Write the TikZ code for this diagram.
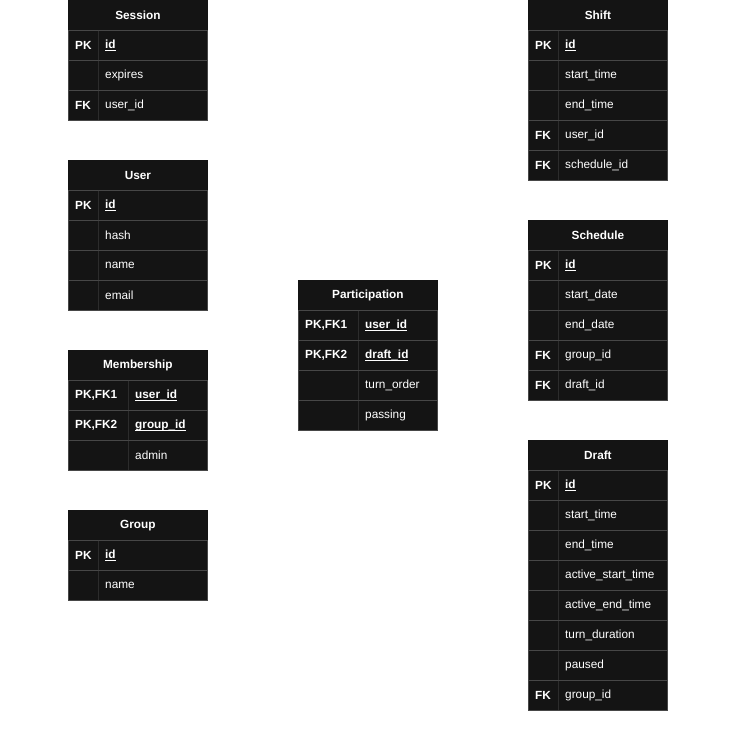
\documentclass[tikz,border=0pt]{standalone}
\usepackage{fontspec}
\setmainfont{Liberation Sans}
\definecolor{cellbg}{HTML}{141414}
\definecolor{gridline}{HTML}{474747}
\definecolor{dividerline}{HTML}{2C2C2C}

% underline that sits level with the underscore glyph
\newcommand\pkul[1]{\setbox0\hbox{#1}\rlap{\rule[-2.4pt]{\wd0}{0.9pt}}\box0}

\tikzset{
  x=1pt, y=-1pt,
  cellbox/.style={draw=gridline, fill=cellbg, line width=0.8pt,
    minimum height=30pt, inner sep=0pt, anchor=north west},
  titlecell/.style={cellbox, draw=cellbg, minimum width=139pt, text=white,
    font=\fontsize{11.8}{13}\selectfont\bfseries},
  divider/.style={draw=dividerline, line width=0.8pt},
  keytext/.style={anchor=west, inner sep=0pt, text=white,
    font=\fontsize{11.8}{13}\selectfont\bfseries},
  plainfield/.style={anchor=west, inner sep=0pt, text=white,
    font=\fontsize{11.8}{13}\selectfont},
  keyfield/.style={plainfield, font=\fontsize{11.8}{13}\selectfont\bfseries},
}

% #1 name, #2 left x, #3 top y, #4 key column width, #5 title, #6 rows key/field/style
\newcommand\ertable[6]{%
  \node[titlecell] (#1) at (#2,#3) {#5};
  \foreach \k/\f/\st [count=\i] in {#6} {
    \pgfmathsetmacro\ry{#3+30*\i}
    \node[cellbox, minimum width=139pt] (#1-row-\i) at (#2,\ry) {};
    \coordinate (#1-key-\i) at (#2+#4,\ry);
    \draw[divider] ([yshift=-0.6pt]#1-key-\i) -- ++(0,29);
    \node[keytext] (#1-kt-\i) at ([xshift=7pt]#1-row-\i.west) {\k};
    \node[\st] (#1-ft-\i) at ([xshift=7pt,yshift=-15pt]#1-key-\i) {\f};
  }
}

\begin{document}
\begin{tikzpicture}
\fill[white] (0,0) rectangle (736,749);
\useasboundingbox (0,0) rectangle (736,749);

\ertable{session}{68}{0}{30}{Session}{%
  PK/\pkul{id}/keyfield, /expires/plainfield, FK/user\_id/plainfield}

\ertable{user}{68}{160}{30}{User}{%
  PK/\pkul{id}/keyfield, /hash/plainfield, /name/plainfield, /email/plainfield}

\ertable{membership}{68}{350}{60}{Membership}{%
  {PK,FK1}/\pkul{user\_id}/keyfield, {PK,FK2}/\pkul{group\_id}/keyfield,
  /admin/plainfield}

\ertable{group}{68}{510}{30}{Group}{%
  PK/\pkul{id}/keyfield, /name/plainfield}

\ertable{participation}{298}{280}{60}{Participation}{%
  {PK,FK1}/\pkul{user\_id}/keyfield, {PK,FK2}/\pkul{draft\_id}/keyfield,
  /turn\_order/plainfield, /passing/plainfield}

\ertable{shift}{528}{0}{30}{Shift}{%
  PK/\pkul{id}/keyfield, /start\_time/plainfield, /end\_time/plainfield,
  FK/user\_id/plainfield, FK/schedule\_id/plainfield}

\ertable{schedule}{528}{220}{30}{Schedule}{%
  PK/\pkul{id}/keyfield, /start\_date/plainfield, /end\_date/plainfield,
  FK/group\_id/plainfield, FK/draft\_id/plainfield}

\ertable{draft}{528}{440}{30}{Draft}{%
  PK/\pkul{id}/keyfield, /start\_time/plainfield, /end\_time/plainfield,
  /active\_start\_time/plainfield, /active\_end\_time/plainfield,
  /turn\_duration/plainfield, /paused/plainfield, FK/group\_id/plainfield}
\end{tikzpicture}
\end{document}
